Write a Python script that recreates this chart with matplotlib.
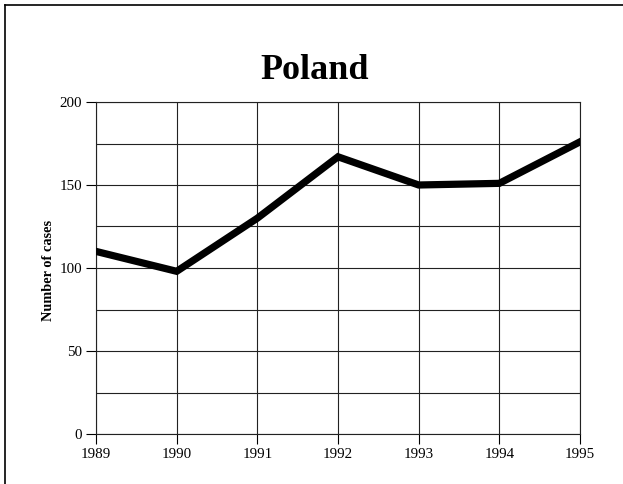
import matplotlib
matplotlib.use("Agg")
import matplotlib.pyplot as plt
from matplotlib.lines import Line2D

# Data
years = [1989, 1990, 1991, 1992, 1993, 1994, 1995]
cases = [110, 98, 130, 167, 150, 151, 176]
y_ticks = [0, 50, 100, 150, 200]
y_grid = [25, 75, 125, 175]

plt.rcParams["font.family"] = ["Liberation Serif", "DejaVu Serif"]

fig = plt.figure(figsize=(6.23, 4.84), dpi=100)
ax = fig.add_axes([96 / 623, 50 / 484, 484 / 623, 332 / 484])

ax.plot(years, cases, color="black", linewidth=5.2, solid_joinstyle="miter", zorder=3)

ax.set_xlim(years[0], years[-1])
ax.set_ylim(0, 200)
ax.set_xticks(years)
ax.set_xticklabels([str(y) for y in years])
ax.set_yticks(y_ticks)
ax.set_yticks(y_grid, minor=True)
ax.tick_params(axis="both", which="major", direction="out", length=7, width=0.8,
               labelsize=10.8, pad=3, colors="black")
ax.tick_params(axis="y", which="minor", length=0)

ax.grid(True, which="both", color="#222222", linewidth=0.8)
for spine in ax.spines.values():
    spine.set_color("#222222")
    spine.set_linewidth(0.8)

fig.text(315 / 623, (484 - 79) / 484, "Poland", ha="center", va="baseline",
         fontsize=26, fontweight="bold")
fig.text(48 / 623, (484 - 270) / 484, "Number of cases", ha="center", va="center",
         rotation=90, fontsize=10.3, fontweight="bold")

# outer frame: only its top and left edges fall inside the image
fx, fy = 4.5 / 623, 1 - 4.5 / 484
fig.add_artist(Line2D([fx, fx], [0, fy], transform=fig.transFigure, color="black", lw=1.2))
fig.add_artist(Line2D([fx, 1], [fy, fy], transform=fig.transFigure, color="black", lw=1.2))

fig.savefig("out.png", dpi=100, facecolor="white")
